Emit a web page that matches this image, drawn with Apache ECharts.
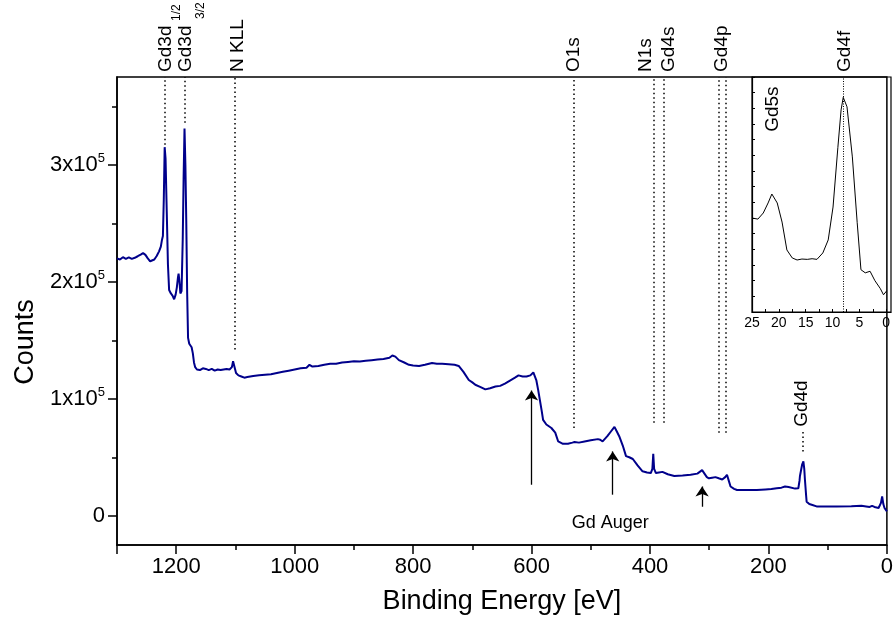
<!DOCTYPE html>
<html>
<head>
<meta charset="utf-8">
<script src="https://cdn.jsdelivr.net/npm/echarts@6/dist/echarts.min.js"></script>
<style>
  html, body { margin: 0; padding: 0; background: #fff; }
  #main { width: 896px; height: 621px; }
</style>
</head>
<body>
<div id="main"></div>
<script>
// survey spectrum, binding energy in eV (descending) and counts
const energy = [
  1300, 1295, 1290, 1285, 1280, 1275, 1270, 1265, 1260, 1256, 1252, 1248, 1244, 1241, 1237, 1233,
  1229, 1226, 1224, 1222.5, 1221, 1219.5, 1218, 1216, 1214, 1212, 1209, 1206, 1203.5, 1201, 1199,
  1197, 1196, 1194.5, 1193, 1191, 1189, 1187.5, 1186, 1184.5, 1183, 1181.5, 1180, 1178, 1176, 1174,
  1172, 1170, 1168, 1165, 1160, 1155, 1150, 1145, 1140, 1135, 1130, 1125, 1120, 1115, 1110, 1106,
  1104, 1102, 1099, 1095, 1090, 1085, 1080, 1075, 1070, 1060, 1050, 1040, 1030, 1020, 1010, 1000,
  990, 980, 975, 970, 960, 950, 940, 930, 920, 910, 900, 890, 880, 870, 860, 850, 840, 835, 830,
  824, 815, 807, 800, 790, 780, 768, 760, 751, 740, 730, 723, 715, 706, 700, 695, 686, 678, 670,
  661, 653, 645, 635, 628, 622, 615, 608.5, 602, 597, 594, 592, 589, 586, 583, 580.5, 575, 566.5,
  560, 555, 547, 538.5, 531, 527.5, 520, 510.5, 500, 488, 484, 480, 472, 466, 460, 456, 452, 446,
  440.5, 435, 429, 421, 412.6, 405, 398.6, 396, 394.5, 393, 390, 385, 379, 370, 359, 345, 331.5,
  320, 317, 312, 308, 304, 300.5, 295, 289.5, 284, 278, 273, 270, 267, 264, 258, 253, 240, 230,
  219.6, 205, 195, 186, 178, 172, 169, 166, 163.5, 155, 149.5, 147.5, 146.8, 143, 141, 139.5,
  138.4, 136.5, 135.5, 131, 127, 118.7, 100, 85, 60, 43, 35, 29, 25, 23.5, 21, 18, 14, 12, 10, 8,
  6, 4, 2, 0
];
const counts = [
  220000, 219000, 221000, 219500, 220800, 219600, 220500, 221800, 223200, 224500, 223000, 220000,
  217500, 216500, 219000, 222000, 226000, 230000, 236000, 239000, 270000, 315000, 305000, 260000,
  215000, 193000, 190000, 188000, 185000, 189000, 195000, 204000, 207000, 200000, 190000, 192000,
  236000, 290000, 331000, 300000, 250000, 190000, 152000, 147000, 148000, 144000, 139000, 131000,
  127000, 125000, 124500, 126000, 125500, 124500, 125500, 124000, 125000, 124500, 125000, 125500,
  125000, 127000, 132000, 128000, 122000, 120000, 119000, 118000, 118500, 119000, 119500, 120000,
  120500, 121000, 122000, 123000, 124000, 125000, 126000, 126500, 129000, 127500, 128000, 129000,
  130000, 130000, 131000, 131500, 132000, 131800, 132500, 133000, 133500, 134000, 135000, 137000,
  136000, 133000, 131000, 129000, 128500, 128000, 129000, 130500, 130000, 130000, 129500, 129000,
  128000, 123000, 116000, 114000, 112000, 110000, 108000, 109000, 110500, 111000, 113000, 116000,
  118000, 120000, 119000, 119000, 120000, 122500, 121000, 116000, 108000, 99000, 90000, 82000,
  78000, 75000, 71000, 63500, 61500, 61500, 62500, 63000, 62500, 63500, 64500, 65500, 65000, 63500,
  68000, 72000, 76000, 72000, 68000, 60000, 51000, 50000, 48500, 43000, 38000, 37000, 36500, 40000,
  53000, 40000, 36500, 37000, 37500, 35500, 34000, 34500, 35000, 36000, 36500, 39000, 36000, 33000,
  32000, 32500, 33000, 32000, 31000, 33000, 35000, 30000, 25000, 23000, 22000, 22000, 22000, 22000,
  22500, 22800, 23500, 24000, 25000, 26500, 24500, 23000, 23200, 23500, 30000, 34000, 44000, 46500,
  40000, 31000, 18000, 12000, 10000, 9400, 8000, 8000, 8000, 8200, 8500, 8000, 7500, 8500, 10000,
  7500, 6600, 6600, 7000, 11000, 16500, 10000, 6600, 5000, 3700
];

// valence band inset (arbitrary units)
const insetEnergy = [
  25.0, 23.9, 22.9, 22.0, 21.3, 20.3, 19.4, 18.5, 17.5, 16.6, 15.7, 14.7, 13.8, 12.9, 11.8, 10.8,
  9.9, 9.0, 8.4, 8.0, 7.3, 6.3, 5.4, 4.7, 3.9, 3.0, 2.1, 1.1, 0.5, -0.1
];
const insetCounts = [
  6.0, 5.93, 6.32, 6.96, 7.53, 6.96, 5.74, 3.96, 3.45, 3.32, 3.38, 3.36, 3.40, 3.36, 3.77, 4.6,
  6.7, 10.5, 12.9, 13.7, 13.1, 9.9, 5.7, 2.7, 2.5, 2.6, 2.0, 1.5, 1.1, 1.35
];

const yTicks = [0, 100000, 200000, 300000];
const yMinorTicks = [50000, 150000, 250000, 350000];
const insetLabelTicks = [0, 5, 10, 15, 20, 25];
const insetTickMarks = [0, 2.5, 5, 7.5, 10, 12.5, 15, 17.5, 20, 22.5, 25];

// peak markers: energy, bottom of dotted line (counts)
const peakEnergy = [1219.5, 1185.5, 1102, 528, 394, 377, 284.3, 271.6];
const peakLineEnd = [317000, 336000, 142000, 75000, 79500, 79500, 71000, 71000];
const gd4dEnergy = 142;
const gd4dLine = [55000, 73500];
const gd4fEnergy = 8;

// labels above the frame
const topLabels = ['Gd3d', 'Gd3d', 'N KLL', 'O1s', 'N1s', 'Gd4s', 'Gd4p'];
const topLabelEnergy = [1217.7, 1183.2, 1095.9, 529, 406.4, 368.7, 278.8];
const subLabels = ['1/2', '3/2'];

// Auger arrows: energy, from, to
const arrowEnergy = [600, 463, 312];
const arrowFrom = [26500, 18000, 7700];
const arrowTo = [107000, 55000, 25000];

const font = 'Liberation Sans, Arial, sans-serif';
const black = '#000';

const dottedData = peakEnergy.map((e, i) => [
  { coord: [e, peakLineEnd[i]], lineStyle: { type: [1.5, 3], color: black, width: 1.5 } },
  { coord: [e, 375000] }
]);
dottedData.push([
  { coord: [gd4dEnergy, gd4dLine[0]], lineStyle: { type: [1.5, 3], color: black, width: 1.5 } },
  { coord: [gd4dEnergy, gd4dLine[1]] }
]);
const arrowData = arrowEnergy.map((e, i) => [
  { coord: [e, arrowFrom[i]], symbol: 'none', lineStyle: { type: 'solid', color: black, width: 1.3 } },
  { coord: [e, arrowTo[i]], symbol: 'arrow', symbolSize: 10 }
]);

const option = {
  animation: false,
  backgroundColor: '#fff',
  textStyle: { fontFamily: font },
  grid: [
    { left: 117, right: 5, top: 77, bottom: 76, show: true, borderColor: black, borderWidth: 1.5 },
    { left: 752, right: 5, top: 77, bottom: 309, show: true, borderColor: black, borderWidth: 1.2 }
  ],
  xAxis: [
    {
      type: 'value', gridIndex: 0, inverse: true, min: 0, max: 1300, interval: 200,
      name: 'Binding Energy [eV]', nameLocation: 'middle', nameGap: 43,
      nameTextStyle: { fontSize: 27, color: black, fontFamily: font },
      axisLine: { onZero: false, lineStyle: { color: black, width: 1.5 } },
      axisTick: { length: 9, lineStyle: { color: black, width: 1.5 } },
      minorTick: { show: true, splitNumber: 2, length: 5, lineStyle: { color: black, width: 1.5 } },
      axisLabel: {
        fontSize: 22, color: black, margin: 11, showMaxLabel: false, fontFamily: font,
        formatter: v => String(v)
      },
      splitLine: { show: false }, minorSplitLine: { show: false }
    },
    {
      type: 'value', gridIndex: 1, inverse: true, min: -0.9, max: 25,
      axisLine: { onZero: false, lineStyle: { color: black, width: 1.2 } },
      axisTick: { inside: true, length: 3, customValues: insetTickMarks, lineStyle: { color: black } },
      axisLabel: {
        fontSize: 14, color: black, margin: 4, customValues: insetLabelTicks, fontFamily: font,
        formatter: v => String(v)
      },
      splitLine: { show: false }
    }
  ],
  yAxis: [
    {
      type: 'value', gridIndex: 0, position: 'left', min: -25000, max: 375000,
      name: 'Counts', nameLocation: 'middle', nameGap: 76,
      nameTextStyle: { fontSize: 27, color: black, fontFamily: font, padding: [0, 62, 0, 0] },
      axisLine: { onZero: false, lineStyle: { color: black, width: 1.5 } },
      axisTick: { length: 9, customValues: yTicks, lineStyle: { color: black, width: 1.5 } },
      axisLabel: {
        customValues: yTicks, margin: 12, color: black, fontSize: 22, fontFamily: font,
        formatter: v => v === 0 ? '{m|0}' : '{m|' + (v / 100000) + 'x10}{s|5}',
        rich: {
          m: { fontSize: 22, lineHeight: 26, color: black, fontFamily: font },
          s: { fontSize: 13, lineHeight: 13, verticalAlign: 'top', color: black, fontFamily: font }
        }
      },
      splitLine: { show: false }
    },
    {
      type: 'value', gridIndex: 0, position: 'left', min: -25000, max: 375000,
      axisLine: { show: false, onZero: false },
      axisTick: { length: 5, customValues: yMinorTicks, lineStyle: { color: black, width: 1.5 } },
      axisLabel: { show: false },
      splitLine: { show: false }
    },
    {
      type: 'value', gridIndex: 1, position: 'left', min: 0, max: 15, interval: 1,
      axisLine: { onZero: false, lineStyle: { color: black, width: 1.2 } },
      axisTick: { inside: true, length: 3, lineStyle: { color: black } },
      axisLabel: { show: false },
      splitLine: { show: false }
    }
  ],
  series: [
    {
      type: 'line', xAxisIndex: 0, yAxisIndex: 0,
      data: energy.map((e, i) => [e, counts[i]]),
      showSymbol: false, silent: true,
      lineStyle: { color: '#00008b', width: 2 },
      markLine: {
        silent: true, symbol: 'none', animation: false,
        label: { show: false },
        emphasis: { disabled: true },
        data: dottedData.concat(arrowData)
      }
    },
    {
      type: 'line', xAxisIndex: 1, yAxisIndex: 2,
      data: insetEnergy.map((e, i) => [e, insetCounts[i]]),
      showSymbol: false, silent: true,
      lineStyle: { color: black, width: 1 },
      markLine: {
        silent: true, symbol: 'none', animation: false,
        label: { show: false },
        lineStyle: { type: [1, 1.5], color: black, width: 1 },
        data: [{ xAxis: gd4fEnergy }]
      }
    }
  ]
};

const chart = echarts.init(document.getElementById('main'));
chart.setOption(option);

const px = (e, v) => chart.convertToPixel({ xAxisIndex: 0, yAxisIndex: 0 }, [e, v]);
const pxInset = (e, v) => chart.convertToPixel({ xAxisIndex: 1, yAxisIndex: 2 }, [e, v]);

function vText(x, y, text, size) {
  return {
    type: 'text', x: x, y: y, rotation: Math.PI / 2,
    style: { text: text, fill: black, fontSize: size, fontFamily: font, align: 'left', verticalAlign: 'middle' }
  };
}

const graphics = [];
topLabels.forEach((t, i) => {
  const p = px(topLabelEnergy[i], 0);
  graphics.push(vText(p[0], 72, t, 19));
});
// subscripts of Gd3d
graphics.push(vText(px(topLabelEnergy[0], 0)[0] + 11, 21, subLabels[0], 12));
graphics.push(vText(px(topLabelEnergy[1], 0)[0] + 15, 19, subLabels[1], 12));

const gd4dPos = px(144.4, 76000);
graphics.push(vText(gd4dPos[0], gd4dPos[1], 'Gd4d', 19));

const gd4fPos = pxInset(7.8, 15);
graphics.push(vText(gd4fPos[0], 72, 'Gd4f', 19));

const gd5sPos = pxInset(21.1, 11.5);
graphics.push(vText(gd5sPos[0], gd5sPos[1], 'Gd5s', 19));

const augerPos = px(467, -6000);
graphics.push({
  type: 'text', x: augerPos[0], y: augerPos[1],
  style: { text: 'Gd Auger', fill: black, fontSize: 18, fontFamily: font, align: 'center', verticalAlign: 'middle' }
});

chart.setOption({ graphic: graphics });
</script>
</body>
</html>
